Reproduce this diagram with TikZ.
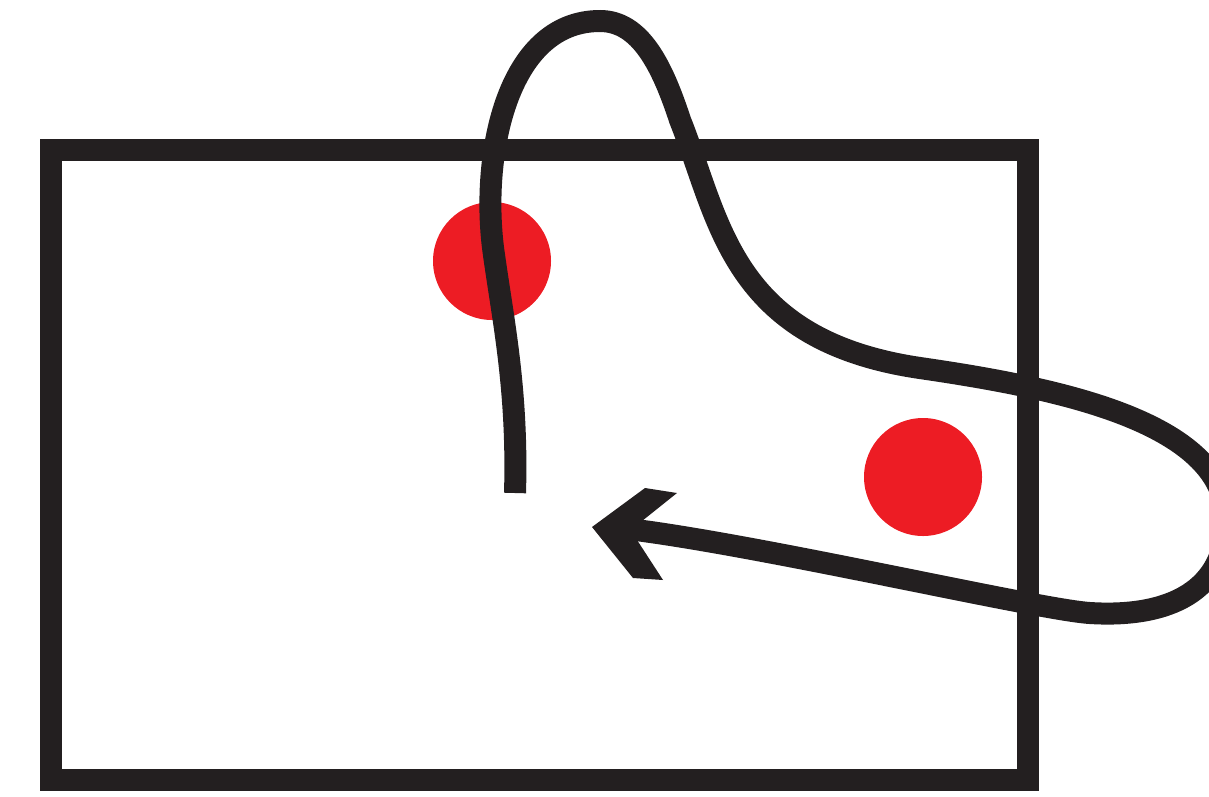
\documentclass[tikz,border=0pt]{standalone}
\definecolor{ink}{HTML}{231F20}
\definecolor{dotred}{HTML}{ED1C24}
\begin{document}
\begin{tikzpicture}[x=1pt,y=-1pt,
  frame/.style={draw=ink,line width=22pt},
  rope/.style={draw=ink,line width=22pt},
  dot/.style={fill=dotred}]
\useasboundingbox (0,0) rectangle (1209,796);
\clip (0,0) rectangle (1209,796);
\draw[frame] (50.5,149.5) rectangle (1027.5,780);
\fill[dot] (492,261) circle (59);
\fill[dot] (923,477) circle (59);
\coordinate (start) at (515,493);
\coordinate (tip) at (628,529);
\draw[rope] (start)
  .. controls (518,390) and (503,320) .. (494,255)
  .. controls (480,160) and (505,21) .. (600,21)
  .. controls (640,21) and (662,65) .. (680,120)
  .. controls (720,220) and (730,340) .. (920,368)
  .. controls (1050,387) and (1226,420) .. (1226,520)
  .. controls (1226,590) and (1170,618) .. (1090,613)
  .. controls (1040,610) and (760,545) .. (tip);
\fill[ink] (592,527) -- (645,488) -- (677,493) -- (642,521) -- (637,540) -- (663,580) -- (633,578) -- cycle;
\end{tikzpicture}
\end{document}
